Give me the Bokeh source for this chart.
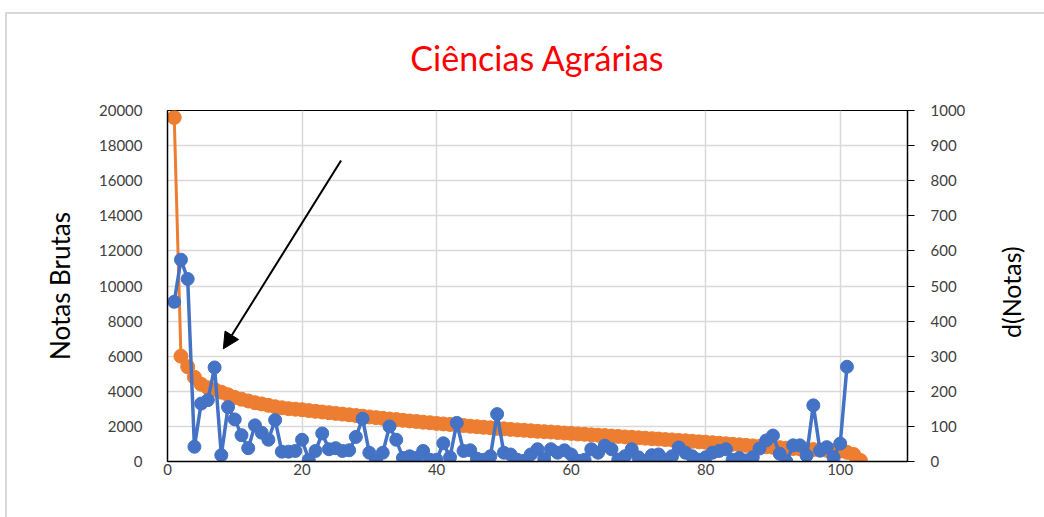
import math
from bokeh.plotting import figure
from bokeh.layouts import row
from bokeh.models import Range1d, LinearAxis, FixedTicker, Arrow, NormalHead, InlineStyleSheet
from bokeh.core.properties import value
from bokeh.embed import file_html
from bokeh.resources import INLINE

# ---- data ----
idx_notas = list(range(1, 104))
notas_brutas = [
    19600, 6000, 5400, 4800, 4400, 4200, 4100, 3950, 3800, 3650,
    3550, 3450, 3350, 3280, 3200, 3120, 3060, 3010, 2980, 2950,
    2900, 2860, 2820, 2780, 2740, 2700, 2660, 2620, 2580, 2540,
    2500, 2460, 2420, 2390, 2350, 2310, 2280, 2240, 2210, 2170,
    2140, 2110, 2080, 2050, 2010, 1980, 1950, 1920, 1890, 1860,
    1830, 1800, 1780, 1750, 1720, 1700, 1680, 1650, 1620, 1600,
    1570, 1550, 1520, 1500, 1480, 1450, 1430, 1400, 1380, 1350,
    1330, 1300, 1280, 1250, 1230, 1200, 1180, 1150, 1120, 1100,
    1070, 1040, 1010, 980, 950, 920, 890, 860, 840, 810,
    790, 760, 740, 720, 700, 680, 660, 640, 620, 600,
    520, 400, 60,
]

idx_d = list(range(1, 102))
d_notas = [
    455, 575, 520, 42, 165, 175, 268, 18, 155, 120,
    75, 38, 103, 82, 62, 118, 28, 28, 30, 62,
    5, 30, 80, 35, 38, 30, 32, 70, 122, 25,
    2, 25, 100, 62, 10, 15, 10, 30, 5, 5,
    52, 12, 110, 30, 32, 8, 5, 15, 135, 25,
    20, 5, 2, 20, 35, 8, 35, 25, 32, 20,
    2, 5, 35, 25, 45, 35, 5, 15, 35, 12,
    2, 18, 20, 5, 15, 40, 25, 15, 5, 12,
    25, 30, 35, 5, 10, 3, 12, 37, 60, 74,
    22, 0, 46, 46, 17, 160, 31, 41, 12, 51,
    270,
]

x_ticks = [0, 20, 40, 60, 80, 100]
y_left_ticks = list(range(0, 20001, 2000))
y_right_ticks = list(range(0, 1001, 100))

# arrow annotation (data coords: x, left-axis y)
arrow_start = (25.8, 17150)
arrow_end = (8.3, 6420)

ORANGE = "#ED7D31"
BLUE = "#4472C4"
FONT = "Lato"
TXT = "#404040"

W1, W2, H = 985, 55, 512
p = figure(
    width=W1, height=H,
    x_range=Range1d(0, 110), y_range=Range1d(0, 20000),
    output_backend="svg", toolbar_location=None,
    min_border_left=167, min_border_right=W1 - 907,
    min_border_top=110, min_border_bottom=H - 461,
)
p.extra_y_ranges = {"d": Range1d(0, 1000)}

p.title.text = "Ciências Agrárias"
p.title.text_color = "#FF0000"
p.title.text_font = FONT
p.title.text_font_size = "34px"
p.title.text_font_style = "normal"
p.title.align = "center"
p.title.standoff = 66

p.outline_line_color = "black"
p.outline_line_width = 1

# grids
p.xgrid.ticker = FixedTicker(ticks=x_ticks)
p.ygrid.ticker = FixedTicker(ticks=y_left_ticks)
for g in (p.xgrid, p.ygrid):
    g.grid_line_color = "#D9D9D9"
    g.grid_line_width = 1.5

# axes
xa = p.xaxis[0]
xa.ticker = FixedTicker(ticks=x_ticks)
ya = p.yaxis[0]
ya.ticker = FixedTicker(ticks=y_left_ticks)
ya.axis_label = "Notas Brutas"

ra = LinearAxis(y_range_name="d", ticker=FixedTicker(ticks=y_right_ticks))
p.add_layout(ra, "right")

for ax in (xa, ya, ra):
    ax.axis_line_color = "black"
    ax.axis_line_width = 1.5
    ax.major_tick_line_color = "black"
    ax.major_tick_in = 0
    ax.minor_tick_line_color = None
    ax.major_label_text_font = FONT
    ax.major_label_text_font_size = "15px"
    ax.major_label_text_color = TXT
    ax.axis_label_text_font = FONT
    ax.axis_label_text_font_size = "26px"
    ax.axis_label_text_font_style = "normal"
    ax.axis_label_text_color = "black"

xa.major_tick_out = 0
xa.major_label_standoff = 2
ya.major_tick_out = 0
ya.major_label_standoff = 25
ya.axis_label_standoff = 20
ra.major_tick_out = 7
ra.major_label_standoff = 16

# series
p.line(idx_notas, notas_brutas, line_color=ORANGE, line_width=3)
p.scatter(idx_notas, notas_brutas, size=14, fill_color=ORANGE, line_color=ORANGE)

p.line(idx_d, d_notas, y_range_name="d", line_color=BLUE, line_width=3.5)
p.scatter(idx_d, d_notas, y_range_name="d", size=13, fill_color=BLUE, line_color=BLUE)

p.add_layout(Arrow(
    x_start=arrow_start[0], y_start=arrow_start[1],
    x_end=arrow_end[0], y_end=arrow_end[1],
    line_color="black", line_width=2,
    end=NormalHead(size=16, fill_color="black", line_color="black"),
))

# right axis title (reads bottom-to-top), in a narrow companion panel
p2 = figure(
    width=W2, height=H, x_range=Range1d(0, 1), y_range=Range1d(H, 0),
    output_backend="svg", toolbar_location=None,
    min_border=0, outline_line_color=None,
    background_fill_color=None, border_fill_color=None,
)
p2.axis.visible = False
p2.grid.visible = False
p2.text(x=[0.47], y=[265], text=["d(Notas)"], angle=math.pi / 2,
        text_align="center", text_baseline="middle",
        text_font=value(FONT), text_font_size="25px", text_color="black")

layout = row(p, p2, spacing=0)
layout.stylesheets = [InlineStyleSheet(css=(
    ":host::after { content: ''; position: absolute; left: 5px; top: 12px; "
    "right: -20px; bottom: -20px; border-left: 2px solid #D9D9D9; "
    "border-top: 2px solid #D9D9D9; pointer-events: none; z-index: 10; }"
))]

open("out.html", "w").write(file_html(layout, INLINE))
